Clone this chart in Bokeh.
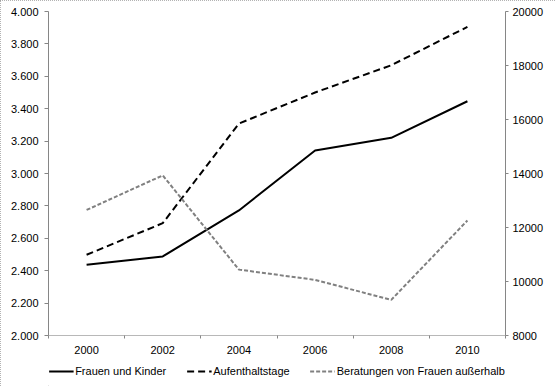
from bokeh.plotting import figure
from bokeh.layouts import column
from bokeh.models import (Range1d, LinearAxis, FixedTicker, Legend, LegendItem)
from bokeh.embed import file_html
from bokeh.resources import INLINE

# ---- data ----
years = ["2000", "2002", "2004", "2006", "2008", "2010"]
frauen_kinder = [2436, 2488, 2772, 3142, 3220, 3446]          # left axis
aufenthaltstage = [10990, 12160, 15850, 17000, 18010, 19430]  # right axis
beratungen = [12650, 13930, 10440, 10060, 9320, 12260]        # right axis

left_ticks = [2000, 2200, 2400, 2600, 2800, 3000, 3200, 3400, 3600, 3800, 4000]
left_tick_labels = ["2.000", "2.200", "2.400", "2.600", "2.800", "3.000",
                    "3.200", "3.400", "3.600", "3.800", "4.000"]
right_ticks = [8000, 10000, 12000, 14000, 16000, 18000, 20000]

series_names = ["Frauen und Kinder", "Aufenthaltstage",
                "Beratungen von Frauen außerhalb"]

FONT = "Liberation Sans"
AXIS_COLOR = "#868686"

styles = [dict(line_color="black", line_width=2),
          dict(line_color="black", line_width=2, line_dash="7 4"),
          dict(line_color="#808080", line_width=2, line_dash="4 2")]
series = [frauen_kinder, aufenthaltstage, beratungen]

n = len(years)
xc = [i + 0.5 for i in range(n)]

p = figure(frame_width=457, frame_height=324,
           output_backend="svg", toolbar_location=None,
           x_range=Range1d(0, n), y_range=Range1d(2000, 4000),
           x_axis_type=None, y_axis_type=None,
           min_border_left=48, min_border_right=50,
           min_border_top=11, min_border_bottom=0)
p.extra_y_ranges = {"right": Range1d(8000, 20000)}
p.outline_line_color = None
p.background_fill_color = "white"
p.border_fill_color = "white"

# x axis: labels at category centers, ticks at category boundaries
xaxis = LinearAxis(ticker=FixedTicker(ticks=xc, minor_ticks=list(range(n + 1))))
xaxis.major_label_overrides = {c: y for c, y in zip(xc, years)}
xaxis.major_tick_out = 0
xaxis.major_tick_in = 0
xaxis.minor_tick_out = 3
xaxis.minor_tick_in = 0
xaxis.minor_tick_line_color = AXIS_COLOR
xaxis.axis_line_color = "#b8b8b8"
xaxis.major_label_standoff = 7
xaxis.major_label_text_font = FONT
xaxis.major_label_text_font_size = "11px"
xaxis.major_label_text_color = "black"
p.add_layout(xaxis, "below")

# left axis
yaxis = LinearAxis(ticker=FixedTicker(ticks=left_ticks))
yaxis.major_label_overrides = {t: l for t, l in zip(left_ticks, left_tick_labels)}
yaxis.major_tick_out = 4
yaxis.major_tick_in = 0
yaxis.minor_tick_line_color = None
yaxis.major_tick_line_color = AXIS_COLOR
yaxis.axis_line_color = AXIS_COLOR
yaxis.major_label_standoff = 6
yaxis.major_label_text_font = FONT
yaxis.major_label_text_font_size = "11px"
yaxis.major_label_text_color = "black"
p.add_layout(yaxis, "left")

# right axis
raxis = LinearAxis(y_range_name="right", ticker=FixedTicker(ticks=right_ticks))
raxis.major_tick_out = 3
raxis.major_tick_in = 0
raxis.minor_tick_line_color = None
raxis.major_tick_line_color = AXIS_COLOR
raxis.axis_line_color = AXIS_COLOR
raxis.major_label_standoff = 4
raxis.major_label_text_font = FONT
raxis.major_label_text_font_size = "11px"
raxis.major_label_text_color = "black"
p.add_layout(raxis, "right")

# grid
p.xgrid.visible = False
p.ygrid.ticker = FixedTicker(ticks=left_ticks)
p.ygrid.grid_line_color = AXIS_COLOR
p.ygrid.grid_line_width = 1

p.line(xc, frauen_kinder, **styles[0])
p.line(xc, aufenthaltstage, y_range_name="right", **styles[1])
p.line(xc, beratungen, y_range_name="right", **styles[2])

# legend strip below the chart (single-point proxies draw nothing themselves)
lg = figure(width=555, height=30, output_backend="svg", toolbar_location=None,
            x_axis_type=None, y_axis_type=None,
            x_range=Range1d(0, 1), y_range=Range1d(0, 1),
            min_border=0)
lg.grid.visible = False
lg.outline_line_color = None
lg.background_fill_color = "white"
lg.border_fill_color = "white"
legend_renderers = [lg.line(xc[:1], s[:1], **st) for s, st in zip(series, styles)]

legend = Legend(items=[LegendItem(label=name, renderers=[r])
                       for name, r in zip(series_names, legend_renderers)],
                orientation="horizontal", location="center")
legend.border_line_color = None
legend.background_fill_alpha = 0
legend.label_text_font = FONT
legend.label_text_font_size = "11px"
legend.label_text_color = "black"
legend.glyph_width = 25
legend.glyph_height = 12
legend.label_standoff = 2
legend.spacing = 20
legend.padding = 2
legend.margin = 0
legend.label_height = 12
lg.add_layout(legend, "center")

page = column(p, lg, spacing=0,
              styles={"outline": "1px dotted #9a9a9a", "outline-offset": "-1px"})

open("out.html", "w").write(file_html(page, INLINE))
